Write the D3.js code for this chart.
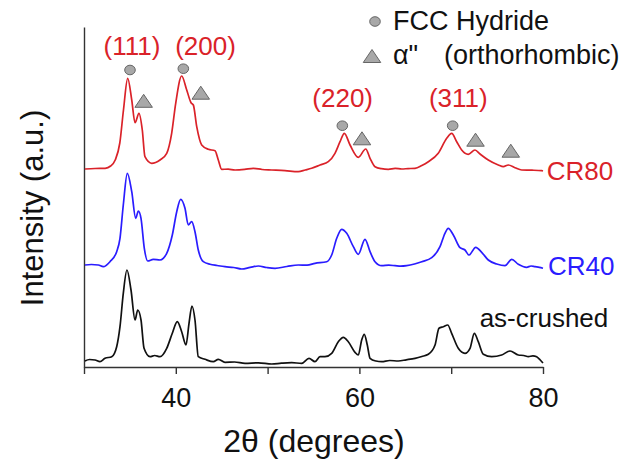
<!DOCTYPE html>
<html>
<head>
<meta charset="utf-8">
<script src="https://cdn.jsdelivr.net/npm/d3@7"></script>
<style>
  html, body { margin: 0; padding: 0; background: #fff; }
  svg { display: block; font-family: "Liberation Sans", Arial, Helvetica, sans-serif; }
</style>
</head>
<body>
<svg id="chart" width="633" height="462"></svg>
<script>
// ---- Data (2θ in degrees, intensity in arbitrary units, offsets included) ----
const seriesNames = ["CR80", "CR40", "as-crushed"];
const seriesColors = ["#da2229", "#2a1cff", "#111111"];

const cr80 = [
  [30.1,198],[31.2,198.5],[32.3,198.7],[32.9,201],[33.4,207],[33.9,224],[34.3,257],[34.76,288.7],
  [35.2,267],[35.56,244.3],[35.99,253.7],[36.35,237],[36.64,210.3],[37.37,203.7],[37.8,204.5],
  [38.28,207],[39.01,213.7],[39.55,233.7],[39.99,263.7],[40.64,291],[41.19,277],[41.66,264.3],
  [41.91,262],[42.28,240.3],[42.82,222],[43.54,217.7],[44.27,216.3],[44.63,207],[45.0,197.7],
  [45.7,197.8],[46.45,197],[47.5,197.6],[48.44,198.7],[49.4,197.5],[50.45,197],[51.9,196.3],
  [53.34,195.3],[54.1,197],[54.8,198.7],[55.71,202],[56.61,205.3],[57.34,213.7],[57.89,225.3],
  [58.36,233.7],[58.98,222],[59.88,209.7],[60.69,218],[61.16,208.7],[61.7,200.3],[62.4,198.3],
  [63.15,197.7],[63.9,198.6],[64.61,198],[65.3,198.4],[66.06,198.7],[66.8,201.5],[67.51,205.3],
  [68.59,213.7],[69.51,228.7],[70.05,233.7],[70.6,225.3],[71.14,217],[71.86,212.7],[72.59,217],
  [73.14,213],[74.04,207],[75.13,202],[75.68,200.3],[76.22,202],[76.95,199.3],[77.68,197],
  [78.8,196.8],[79.86,196.3],[80.0,196]
];

const cr40 = [
  [30.1,102],[30.8,102.5],[31.56,102],[32.1,100.3],[32.83,105.3],[33.56,115.3],[33.92,128.7],
  [34.28,162],[34.72,193.7],[35.2,175.3],[35.63,148.7],[35.92,156],[36.21,148.7],[36.57,118.7],
  [36.94,106],[37.55,107.7],[38.28,107],[39.01,113.7],[39.62,132],[40.1,155.3],[40.53,167.7],
  [41.0,158.7],[41.36,142],[41.73,145.3],[42.09,135.3],[42.45,117],[43.0,105.3],[43.73,102.7],
  [44.5,101.5],[45.36,100.3],[46.3,99.5],[47.18,98],[48.1,99.6],[48.99,101],[49.9,99.5],
  [50.81,98.7],[52.1,100.5],[53.34,102],[54.3,101.8],[55.16,103.7],[56.44,105.3],[56.98,112],
  [57.53,128.7],[58.07,137.7],[58.62,133.7],[59.34,120.3],[59.88,112.7],[60.61,127.7],
  [61.16,115.3],[61.7,105.3],[62.43,101.3],[63.2,101.8],[63.88,101.3],[64.5,100.8],[65.15,101.3],
  [66.0,103],[66.79,105.3],[67.88,109.3],[68.78,120.3],[69.32,133.7],[69.68,138.7],[70.23,132],
  [70.96,119.3],[71.5,117],[71.94,112],[72.67,119.7],[73.32,114.7],[74.04,107],[74.96,103],
  [75.86,101.3],[76.59,107.7],[77.31,102.7],[78.22,99.7],[78.7,101],[79.13,100.3],[79.6,99.6],[80.0,98.7]
];

const asCrushed = [
  [30.1,6],[30.6,7.5],[31.2,7],[31.74,5.3],[32.29,8.7],[33.02,10.3],[33.56,20.3],[33.92,40.3],
  [34.28,73.7],[34.68,97],[35.12,77],[35.56,47],[35.85,57],[36.21,47],[36.54,18.7],[37.19,10.3],
  [37.7,11.5],[38.28,10.3],[39.01,18.7],[39.62,33.7],[40.16,45.3],[40.64,35.3],[41.11,22],
  [41.44,43.7],[41.76,61],[42.09,47],[42.45,10.3],[43.18,7.7],[44.09,5.3],[44.63,7.7],[45.36,4.7],
  [46.4,5],[47.54,3.7],[49.0,4.2],[50.45,3],[51.5,3.8],[52.63,4.3],[53.71,3.7],[54.51,8.7],
  [55.16,5.3],[55.71,10.3],[56.25,10.3],[56.98,13.7],[57.7,25.3],[58.25,29.7],[58.79,25.3],
  [59.52,14.7],[59.88,12],[60.25,27],[60.53,32.7],[60.86,22],[61.16,8.7],[61.8,6],[62.43,5.3],
  [63.3,6.5],[64.24,6],[65.1,7.2],[66.06,8.7],[66.8,10.5],[67.51,12.7],[68.24,22],[68.67,38.7],
  [69.14,40.3],[69.62,42],[70.05,33.7],[70.77,18.7],[71.5,13.7],[72.05,18.7],[72.52,33.7],
  [72.95,25.3],[73.5,12.7],[74.41,10.3],[75.5,12],[76.41,16],[77.31,12],[77.9,11.5],[78.4,10.3],
  [78.9,11.2],[79.31,10.3],[79.7,7],[80.0,4]
];

const seriesData = [cr80, cr40, asCrushed];

// series labels: [2θ at text start, intensity at baseline]
const seriesLabelPos = [[80.4,187],[80.55,92],[73.1,40]];

// phase markers
const fccMarkers = [[35.01,297],[40.82,298.3],[58.14,241.3],[70.16,241.3]];
const alphaMarkers = [[36.5,266.2],[42.72,274.3],[60.28,228.7],[72.65,227.3],[76.49,216.3]];

// Miller index labels: [text, 2θ center, intensity at baseline]
const hklLabels = [["(111)",35.23,312],["(200)",43.24,312],["(220)",58.18,260.3],["(311)",70.77,260.3]];

const xTicks = [30,40,50,60,70,80];
const xTickLabels = ["", "40", "", "60", "", "80"];

// ---- Layout ----
const svg = d3.select("#chart");
const x = d3.scaleLinear().domain([30,80]).range([84,543]);
const y = d3.scaleLinear().domain([0,340]).range([367,27]);

// axes
const gx = svg.append("g").attr("transform", `translate(0,${y(0)})`)
  .call(d3.axisBottom(x).tickValues(xTicks).tickSize(7).tickSizeOuter(0)
    .tickFormat((d,i) => xTickLabels[i]));
gx.select(".domain").attr("stroke","#333").attr("stroke-width",1.4);
gx.selectAll(".tick line").attr("stroke","#333").attr("stroke-width",1.4);
gx.selectAll(".tick text").attr("font-size",27).attr("fill","#111").attr("y",16).attr("dy","0.9em")
  .attr("font-family","Liberation Sans, Arial, sans-serif");

const gy = svg.append("g").attr("transform", `translate(${x(30)},0)`)
  .call(d3.axisLeft(y).tickValues([]).tickSizeOuter(0));
gy.select(".domain").attr("stroke","#333").attr("stroke-width",1.4);

// axis titles
svg.append("text").attr("x", 314).attr("y", 452).attr("text-anchor","middle")
  .attr("font-size",32).attr("fill","#111").text("2θ (degrees)");
svg.append("text").attr("transform", `translate(43,${208}) rotate(-90)`).attr("text-anchor","middle")
  .attr("font-size",31).attr("fill","#111").text("Intensity (a.u.)");

// curves
const line = d3.line().x(d => x(d[0])).y(d => y(d[1])).curve(d3.curveMonotoneX);
seriesData.forEach((s,i) => {
  svg.append("path").datum(s).attr("d", line).attr("fill","none")
    .attr("stroke", seriesColors[i]).attr("stroke-width",1.7).attr("stroke-linejoin","round");
  svg.append("text").attr("x", x(seriesLabelPos[i][0])).attr("y", y(seriesLabelPos[i][1]))
    .attr("font-size",26).attr("fill", seriesColors[i]).text(seriesNames[i]);
});

// hkl labels
svg.selectAll("text.hkl").data(hklLabels).enter().append("text").attr("class","hkl")
  .attr("x", d => x(d[1])).attr("y", d => y(d[2])).attr("text-anchor","middle")
  .attr("font-size",26).attr("fill","#da2229").text(d => d[0]);

// markers
const markerFill = "#a8a8a8", markerStroke = "#666";
svg.selectAll("ellipse.fcc").data(fccMarkers).enter().append("ellipse").attr("class","fcc")
  .attr("cx", d => x(d[0])).attr("cy", d => y(d[1])).attr("rx",5.3).attr("ry",4.8)
  .attr("fill",markerFill).attr("stroke",markerStroke).attr("stroke-width",1);
const tri = (cx,cy,w,h) => `M${cx-w/2},${cy+h/2}L${cx+w/2},${cy+h/2}L${cx},${cy-h/2}Z`;
svg.selectAll("path.alpha").data(alphaMarkers).enter().append("path").attr("class","alpha")
  .attr("d", d => tri(x(d[0]), y(d[1]), 17.5, 13))
  .attr("fill",markerFill).attr("stroke",markerStroke).attr("stroke-width",1);

// legend
svg.append("ellipse").attr("cx",375).attr("cy",21.5).attr("rx",5.3).attr("ry",4.8)
  .attr("fill",markerFill).attr("stroke",markerStroke).attr("stroke-width",1);
svg.append("text").attr("x",393).attr("y",30).attr("font-size",27).attr("fill","#111").text("FCC Hydride");
svg.append("path").attr("d", tri(372,56,17.5,13))
  .attr("fill",markerFill).attr("stroke",markerStroke).attr("stroke-width",1);
svg.append("text").attr("x",393).attr("y",64).attr("font-size",27).attr("fill","#111").text("α\"");
svg.append("text").attr("x",444).attr("y",64).attr("font-size",27).attr("fill","#111").text("(orthorhombic)");
</script>
</body>
</html>
